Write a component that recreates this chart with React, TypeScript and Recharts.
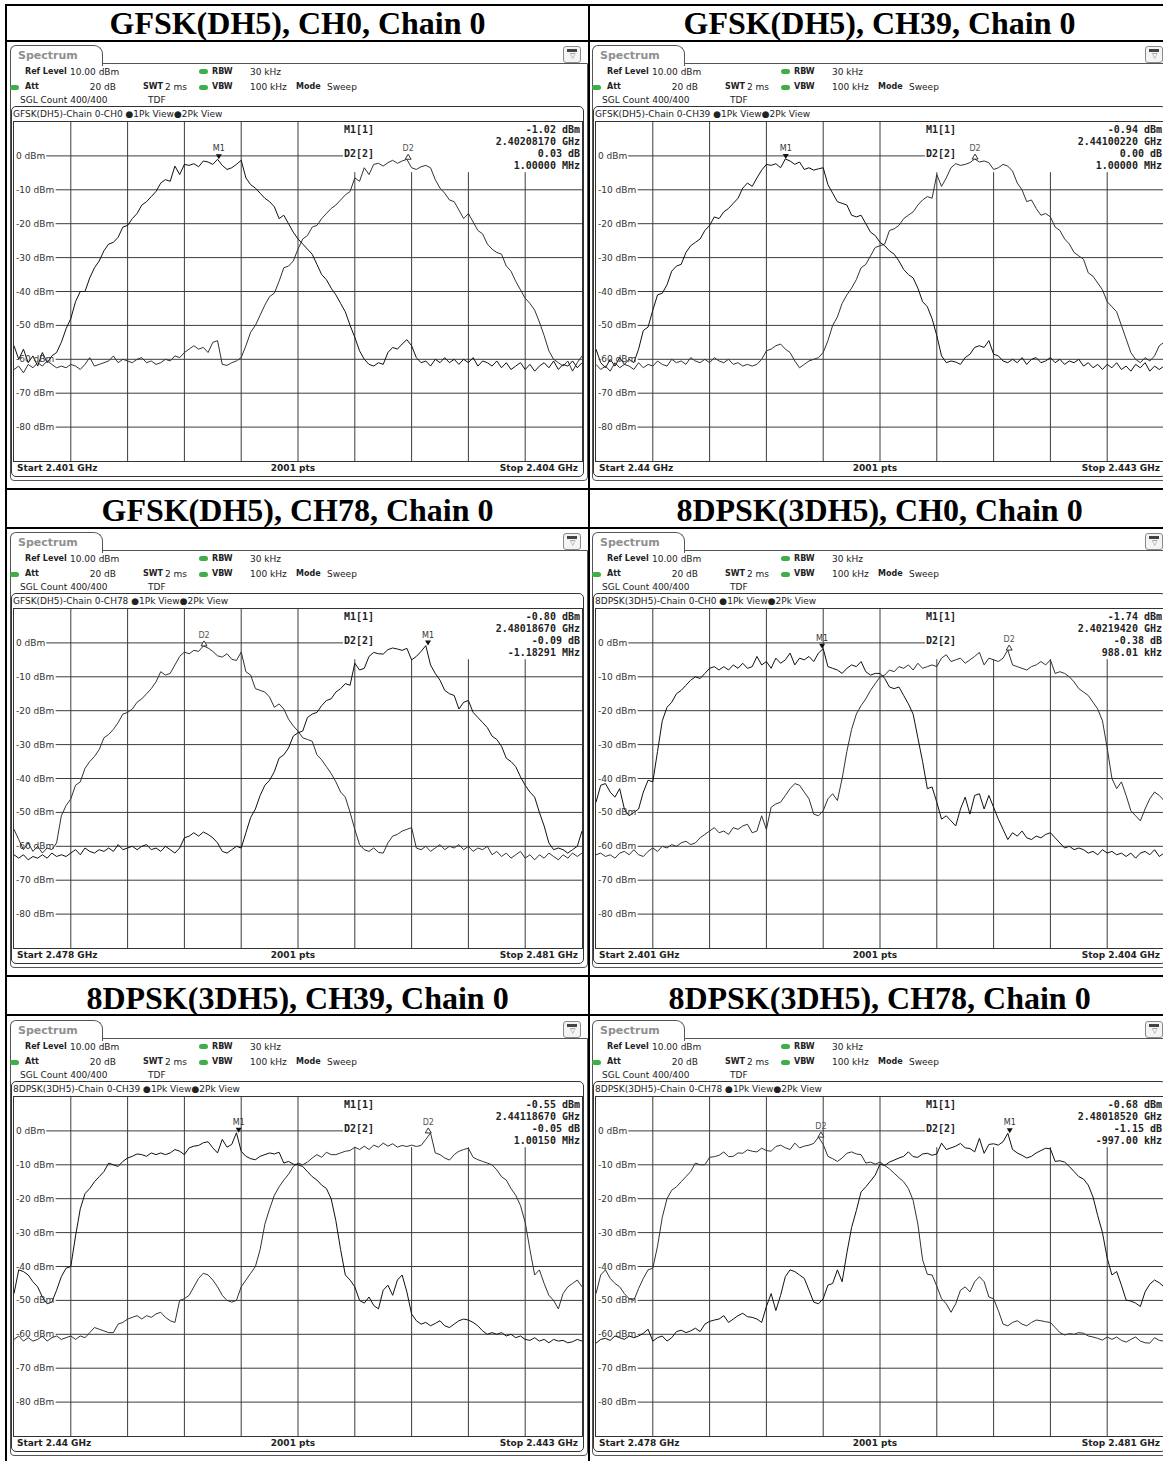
import React from "react";
import { LineChart, Line, XAxis, YAxis, ReferenceLine, ReferenceDot } from "recharts";

// ---- trace data (dBm), 121 points across the 3 MHz span ----
const gfskCh0Trace1 = [
  -56, -60, -57, -61, -59, -62, -58, -61, -59, -58,
  -55, -51, -48, -43, -40, -40, -36, -33, -31, -28,
  -26, -25.5, -24, -21, -20.5, -18.5, -17, -14.5, -13.5, -12,
  -10.5, -8, -7, -7.5, -3, -5.5, -2.5, -2.8, -2.3, -3.2,
  -1.5, -1.8, -2.5, -1, -2.8, -4, -3.5, -2.5, -1.3, -6.5,
  -8.5, -9.5, -11, -12.5, -13.5, -15, -18.5, -17.5, -20, -22.5,
  -24.5, -26, -27.5, -29, -32, -35, -36.5, -39, -41, -43.5,
  -46, -50, -53.5, -57.5, -60, -61.5, -62, -61, -61.5, -58,
  -56.5, -57, -55.5, -54.2, -56, -59.5, -61, -60.5, -62, -60,
  -61, -59.5, -61, -60, -61.5, -60, -61, -59.5, -62, -60.5,
  -61, -62, -60.5, -62.5, -61, -63, -62, -61, -63, -61.5,
  -63.5, -62, -61, -62.5, -60.5, -63, -61.5, -62, -60.5, -62.5, -61,
];
const gfskCh0Trace2 = [
  -63, -62, -64, -61.5, -62.5, -61, -62, -60.5, -61.5, -62.5,
  -62, -62.5, -61.5, -62, -63, -61.5, -59.5, -62, -61.5, -61,
  -60.5, -59, -61, -60, -60.5, -61, -60, -59.5, -61, -60.5,
  -61.5, -61, -60, -60.5, -59, -59.5, -58, -57, -56, -57,
  -56.5, -58, -55, -54.5, -61.5, -61.8, -61, -60.5, -59.5, -56,
  -52, -50, -47, -44, -41.5, -40.5, -37, -33, -32.5, -31,
  -27.5, -24.5, -23.5, -21, -20.5, -18.5, -17, -15.5, -14.5, -13,
  -11.5, -10.5, -6.5, -7.5, -3.5, -5.5, -2.5, -2.2, -3, -2,
  -1.3, -2.2, -1.5, -1, -3.5, -4, -3.2, -2.8, -3.5, -7,
  -9.5, -11, -13, -13.5, -16, -18.5, -17, -19.5, -22, -23,
  -26, -27.5, -28.5, -29, -32.5, -34, -37, -39.5, -42, -43.5,
  -45.5, -49, -53, -57.5, -60, -61, -62, -60.5, -63.5, -61, -59,
];
const gfskCh39Trace1 = [
  -57, -61, -62.5, -60, -62, -59.5, -61.5, -60, -61, -57,
  -51.5, -50.5, -45.5, -41, -40.5, -38, -34, -32.5, -32, -28.5,
  -26.5, -25.5, -24.5, -22, -20.5, -18, -18.5, -16.5, -15.5, -14,
  -12.5, -9.5, -8, -9, -6.5, -4.2, -2.5, -2.8, -2.3, -3.5,
  -0.9, -1.5, -2.5, -1.8, -4, -3.5, -4.2, -3.8, -3.5, -8.5,
  -11, -13.5, -14, -14.5, -17.5, -18, -17.5, -20, -22.5, -23.5,
  -25.5, -26.5, -28, -29, -31, -33.5, -35, -36, -39, -43,
  -44.5, -48, -53, -59, -61, -60.5, -60.8, -61.5, -59.5, -58.5,
  -56.5, -56, -56.5, -54.5, -58.5, -59, -60.5, -61, -60, -61,
  -59.5, -61.5, -60, -59.5, -61, -60.5, -59.5, -61, -60, -61.5,
  -60.5, -61, -60, -62, -61, -62.5, -61.5, -63, -61.5, -62.5,
  -61, -63, -62, -63.5, -61.5, -62.5, -61, -63.5, -62, -63, -62,
];
const gfskCh39Trace2 = [
  -61.5, -63, -62, -63.5, -61, -62.5, -61.5, -62, -63, -61,
  -62.5, -61.5, -62, -60.5, -61.5, -62, -60, -61, -60.5, -61.5,
  -59.5, -60.5, -61, -60, -61, -59.5, -60.5, -61, -60, -61.5,
  -61, -62, -61.5, -62, -61.5, -60, -57.5, -57, -56, -55.5,
  -57, -58, -60.5, -62.5, -61.5, -60.5, -60, -59.5, -58, -54.5,
  -50, -47.5, -43.5, -41, -39, -36.5, -33, -32, -29.5, -27,
  -26.5, -26, -22, -21.5, -20.5, -18.5, -17.5, -16.5, -14.5, -13,
  -12, -12.5, -5.5, -9, -6.5, -3.5, -2.3, -2.8, -2.5, -2,
  -0.9, -1.8, -1.5, -2, -4, -3.5, -2.5, -3, -4.5, -8,
  -10, -13.5, -13, -15.5, -17.5, -17, -18, -21, -22, -24.5,
  -26, -28.5, -29.5, -30.5, -34.5, -35.5, -37.5, -39.5, -43, -44.5,
  -46, -50, -54, -58, -60, -61, -59.5, -60.5, -59, -56, -55,
];
const gfskCh78Trace1 = [
  -62.5, -63.5, -62.5, -64, -63, -63.5, -62.5, -63.5, -62, -63,
  -62.5, -63, -62, -61, -62.5, -60.5, -61.5, -62, -61, -61.5,
  -60.5, -61.5, -59.5, -61, -60.5, -60, -61, -60, -59.5, -61,
  -60.5, -61.5, -60, -61, -62, -60.5, -57.5, -57, -56, -57,
  -55.8, -56.5, -57.5, -59, -61.5, -62, -61, -60, -60.5, -56,
  -51.5, -49, -45, -42, -40.5, -38, -34, -33, -31, -27.5,
  -26.5, -26, -22, -21, -20.5, -18.5, -17, -16.5, -14.5, -13.5,
  -12, -12.5, -6, -8, -7.5, -4, -2.8, -3.2, -3.3, -2,
  -1.5, -1.8, -2.2, -1.6, -5, -4, -2.5, -0.8, -6.5, -9,
  -11, -14, -15, -15.5, -19.5, -17.5, -17, -20.5, -22, -23.5,
  -25, -27.5, -28.5, -30.5, -34, -35, -36.5, -39.5, -42, -44,
  -45.5, -50, -54, -59, -61, -60.5, -61, -62, -61, -60, -55.5,
];
const gfskCh78Trace2 = [
  -55, -58, -61, -59, -61.5, -60, -62, -60.5, -61, -59,
  -51, -48, -46, -42, -41, -37, -35, -33.5, -31.5, -28,
  -27, -25.5, -23.5, -21, -20.5, -19.5, -17.5, -16.5, -15, -13.5,
  -11.5, -8.5, -9.5, -9, -6.5, -4, -2.7, -3.2, -2.2, -2.5,
  -0.9, -1.5, -2.5, -3.8, -4.2, -3.2, -4.8, -5.2, -2.7, -8.5,
  -9.5, -13.5, -14, -14.5, -16, -19, -18, -19.5, -22.5, -24.5,
  -26, -28, -28.5, -29, -33, -34.5, -36.5, -38.5, -41, -44,
  -45.5, -50, -55, -59.5, -61, -61.5, -60.5, -61.8, -62, -59,
  -57, -56.5, -55.5, -55, -54.5, -60.5, -61, -60, -61.5, -60.5,
  -59.5, -61, -60, -60.5, -59.5, -61, -60, -61.5, -60.5, -61,
  -60, -62.5, -61.5, -63, -62, -63.5, -62.5, -61.5, -63.5, -62.5,
  -64, -62.5, -63.5, -62, -63, -64, -62.5, -63.5, -62, -63, -62,
];
const dpskCh0Trace1 = [
  -47, -42, -41.5, -44, -45.5, -43, -49, -51, -50, -49,
  -44, -40.5, -41, -32, -23, -19, -17.5, -15, -14, -12.5,
  -11, -10, -10.5, -9, -7.5, -7, -8, -7, -8, -6.5,
  -7.5, -6, -7.5, -7, -4, -6.5, -5.5, -7.5, -4.5, -6,
  -5, -3, -6.5, -4.5, -5, -4, -5.5, -3, -1.7, -7,
  -7.5, -8, -9, -7.5, -6.5, -7, -5.5, -8.5, -9.5, -9,
  -9, -10.5, -13, -13.5, -13, -15.5, -18, -21, -28, -35,
  -43, -42.5, -47, -52, -51, -52.5, -54, -49, -45.5, -50.5,
  -45, -44.5, -49, -45, -48.5, -52, -55, -58, -56, -57,
  -55.5, -57.5, -58, -57, -57.5, -56.5, -56, -57.5, -59, -60.5,
  -60, -61, -60.5, -61, -62, -61.5, -62.5, -61, -62, -61.5,
  -62.5, -62, -63, -62, -63.5, -62, -61.5, -62.5, -61, -63, -62,
];
const dpskCh0Trace2 = [
  -62.5, -62, -63, -62.5, -63.5, -62, -61.5, -62.5, -61, -62.5,
  -63, -61.5, -60.5, -61.5, -60, -60.5, -59.5, -60, -59, -58.5,
  -59.5, -59, -57.5, -56.5, -55.5, -54.5, -56, -55.5, -56.5, -54.5,
  -55, -54, -53.5, -56, -55.5, -51, -55, -48.5, -47.5, -47,
  -45, -43, -41.5, -42, -44, -46, -50.5, -51, -49.5, -46,
  -44.5, -46.5, -40, -32, -25.5, -21, -18.5, -16.5, -14, -12,
  -10, -9.5, -8, -8.5, -7, -7.5, -6.5, -8, -6, -7.5,
  -7, -6.5, -7, -4.5, -3.5, -5.5, -5, -4.5, -6, -5,
  -4, -2.8, -6.5, -4.5, -5, -5.5, -4.5, -2.1, -6.5, -7,
  -7.5, -8, -7, -6.5, -5.5, -6.5, -5, -9, -8.5, -9,
  -10, -11.5, -13.5, -14.5, -15.5, -17.5, -19.5, -23, -31, -40,
  -43, -41, -45, -49.5, -51, -52.5, -49, -46, -44, -45, -46.5,
];
const dpskCh39Trace1 = [
  -48, -41, -41.5, -42.5, -44.5, -46, -49, -51, -50.5, -47,
  -43, -40.5, -40, -31, -23, -18.5, -17, -15, -13.5, -12,
  -9.5, -10, -10.5, -9, -8, -7.5, -6.8, -7, -7.5, -6.5,
  -7, -6.5, -7, -6.5, -5.5, -6, -7, -5, -4.5, -4.3,
  -3.5, -3.2, -5, -6.5, -2.5, -4.8, -4, -0.55, -6, -7.5,
  -8.2, -8.5, -7.5, -7, -6.5, -6.8, -6.3, -9.5, -9, -9.8,
  -10, -10.5, -12, -13.5, -14.5, -16, -17, -20, -26.5, -35,
  -42.5, -44, -46, -50, -50.8, -49, -51.5, -52.5, -47, -45.5,
  -48.5, -44, -42.5, -47.5, -54, -56, -57, -56.5, -57.5, -56.8,
  -56, -57.5, -58, -57, -56, -55.5, -55.8, -56.5, -57.5, -59,
  -60, -59.5, -60, -59.5, -60.5, -60, -61, -60.5, -61.5, -61.8,
  -61, -62, -61.5, -62.5, -61.5, -62, -61.8, -62.5, -62.2, -61.5, -62,
];
const dpskCh39Trace2 = [
  -61.5, -60.5, -62, -61, -62, -61.5, -60.5, -62, -61, -60.5,
  -61.5, -61, -60.5, -61.5, -60.5, -61, -59.5, -58, -58.5, -59,
  -59.5, -59.5, -57, -56.5, -55.5, -55, -54.5, -55.5, -54.5, -55,
  -54, -53.5, -55, -56, -56.5, -50, -49.5, -48.5, -46, -43.5,
  -42, -42.5, -44, -46, -48.5, -50, -50.5, -50, -46, -44,
  -42, -40, -35, -27.5, -23, -19, -16.5, -14.5, -12.8, -10.5,
  -9.5, -10, -9.2, -8, -7, -7.8, -6.3, -7, -7, -6.5,
  -6, -5.8, -4.8, -5.5, -4.5, -5.5, -4.2, -4.8, -3.6, -4.5,
  -3.8, -4.8, -4.3, -4.6, -4.2, -4.6, -4.3, -2.5, -0.6, -6.5,
  -7, -8, -8.6, -7, -6, -5.5, -5.1, -7.8, -8.5, -9,
  -9.5, -10, -11.5, -13.5, -14.5, -17, -19, -22, -27, -35,
  -42.5, -41, -45, -48.5, -50, -52.5, -48, -46, -45, -44, -46,
];
const dpskCh78Trace1 = [
  -62.6, -61.5, -61.2, -61.8, -60.5, -61, -61.5, -60.5, -61, -60.5,
  -59.7, -58.5, -62, -61, -60.5, -62, -61, -59.2, -58.8, -59.5,
  -59, -58.2, -59.2, -57, -56.2, -55.8, -55.5, -54.5, -56.5, -55.5,
  -54.5, -53.8, -54.8, -55, -55.5, -56.5, -51.8, -48, -53, -48.5,
  -43, -41, -41.5, -42.5, -43.5, -47, -50.5, -51, -49.5, -45.5,
  -45, -41, -44.5, -36, -28.5, -23.5, -18, -16.5, -14.8, -13,
  -9.8, -10.2, -9.2, -8.6, -8, -7.5, -6.2, -7.6, -7.8, -6.8,
  -6.6, -7.2, -6.8, -3.6, -5.5, -5, -4.5, -3.7, -5, -5.2,
  -6.2, -2.2, -6.6, -4, -3.8, -4.2, -3.2, -0.7, -5.5, -6.5,
  -7.2, -8, -7.5, -6.5, -5.8, -5.1, -5.3, -9, -8.8, -9.2,
  -10.5, -12, -13.5, -14.2, -16, -19.5, -25, -30, -37.5, -42.5,
  -41.5, -45.5, -49.9, -50.2, -50.8, -51.8, -47.5, -45.2, -44, -44.8, -46,
];
const dpskCh78Trace2 = [
  -48, -42.5, -41, -43.5, -45, -46, -48, -49.5, -50, -46.5,
  -43.5, -41, -40.5, -34, -25.5, -20, -17.5, -16.5, -15, -13.5,
  -12, -9.5, -10, -10, -7.8, -7.6, -7.2, -6.2, -7.6, -7.5,
  -6.5, -6.6, -5.6, -6, -6.2, -5.1, -5.8, -6, -4.6, -4.2,
  -5, -5.5, -3.6, -5, -4.5, -4.2, -3.7, -1.8, -4, -7.5,
  -8.2, -9, -8, -6.6, -6.2, -6.8, -7, -9.5, -9.2, -9.8,
  -9.2, -10.2, -11.2, -12.5, -13.8, -15, -17, -20.5, -27.5, -38,
  -42.3, -42.5, -45.8, -49.5, -51, -53.5, -51, -47, -46, -47.5,
  -44.5, -43, -44.5, -49, -49.5, -53, -57, -57.5, -56.5, -56,
  -57, -57.5, -56.5, -55.8, -56, -56.3, -56.5, -58, -59.5, -60.2,
  -59.8, -60, -59.5, -59.7, -60.5, -60.8, -61.2, -61.7, -60.8, -61.5,
  -60.8, -61.8, -62.3, -61.5, -60.8, -62, -62.5, -62.6, -61, -61.8, -62,
];

// ---- per-panel labels ----
const titles = [
  "GFSK(DH5), CH0, Chain 0",
  "GFSK(DH5), CH39, Chain 0",
  "GFSK(DH5), CH78, Chain 0",
  "8DPSK(3DH5), CH0, Chain 0",
  "8DPSK(3DH5), CH39, Chain 0",
  "8DPSK(3DH5), CH78, Chain 0",
];
const traceNames = [
  "GFSK(DH5)-Chain 0-CH0",
  "GFSK(DH5)-Chain 0-CH39",
  "GFSK(DH5)-Chain 0-CH78",
  "8DPSK(3DH5)-Chain 0-CH0",
  "8DPSK(3DH5)-Chain 0-CH39",
  "8DPSK(3DH5)-Chain 0-CH78",
];
const startFreqs = ["2.401 GHz", "2.44 GHz", "2.478 GHz", "2.401 GHz", "2.44 GHz", "2.478 GHz"];
const stopFreqs = ["2.404 GHz", "2.443 GHz", "2.481 GHz", "2.404 GHz", "2.443 GHz", "2.481 GHz"];
const m1Levels = ["-1.02 dBm", "-0.94 dBm", "-0.80 dBm", "-1.74 dBm", "-0.55 dBm", "-0.68 dBm"];
const m1Freqs = ["2.40208170 GHz", "2.44100220 GHz", "2.48018670 GHz", "2.40219420 GHz", "2.44118670 GHz", "2.48018520 GHz"];
const d2Deltas = ["0.03 dB", "0.00 dB", "-0.09 dB", "-0.38 dB", "-0.05 dB", "-1.15 dB"];
const d2Offsets = ["1.00000 MHz", "1.00000 MHz", "-1.18291 MHz", "988.01 kHz", "1.00150 MHz", "-997.00 kHz"];
// marker positions in trace-point units (0..120) and dBm
const m1X = [43.27, 40.09, 87.47, 47.77, 47.47, 87.41];
const m1Y = [-1.02, -0.94, -0.8, -1.74, -0.55, -0.68];
const d2X = [83.27, 80.09, 40.15, 87.29, 87.52, 47.53];
const d2Y = [-0.99, -0.94, -0.89, -2.12, -0.6, -1.83];

const traces1 = [gfskCh0Trace1, gfskCh39Trace1, gfskCh78Trace1, dpskCh0Trace1, dpskCh39Trace1, dpskCh78Trace1];
const traces2 = [gfskCh0Trace2, gfskCh39Trace2, gfskCh78Trace2, dpskCh0Trace2, dpskCh39Trace2, dpskCh78Trace2];

const levelTicks = [0, -10, -20, -30, -40, -50, -60, -70, -80];
const freqGrid = [12, 24, 36, 48, 60, 72, 84, 96, 108];

const SANS = '"DejaVu Sans", Verdana, sans-serif';
const MONO = '"DejaVu Sans Mono", "Liberation Mono", monospace';
const SERIF = '"Liberation Serif", "Times New Roman", serif';
const GRID = "#3c3c3c";
const GREEN = "#3fae49";

const PLOT_W = 568;
const PLOT_H = 339;

function Txt({ x, cy, bold, right, mono, size, color, children }: any) {
  return (
    <div
      style={{
        position: "absolute",
        top: cy - 7,
        height: 14,
        lineHeight: "14px",
        left: right ? undefined : x,
        right: right ? 590 - x : undefined,
        fontFamily: mono ? MONO : SANS,
        fontWeight: bold ? "bold" : "normal",
        fontSize: size || 9,
        color: color || "#222",
        whiteSpace: "nowrap",
      }}
    >
      {children}
    </div>
  );
}

function Led({ x, y }: { x: number; y: number }) {
  return (
    <div style={{ position: "absolute", left: x, top: y, width: 9, height: 5, borderRadius: 3, background: GREEN }} />
  );
}

function LevelTick({ y, payload }: any) {
  return (
    <text x={2} y={y} dy={3} fontFamily={SANS} fontSize={9} fill="#333">
      {payload.value} dBm
    </text>
  );
}

function M1Shape({ cx, cy }: any) {
  return (
    <g>
      <text x={cx} y={cy - 8} textAnchor="middle" fontFamily={SANS} fontSize={8} fill="#333">
        M1
      </text>
      <polygon points={`${cx - 3},${cy - 5} ${cx + 3},${cy - 5} ${cx},${cy}`} fill="#111" />
    </g>
  );
}

function D2Shape({ cx, cy }: any) {
  return (
    <g>
      <text x={cx} y={cy - 8} textAnchor="middle" fontFamily={SANS} fontSize={8} fill="#555">
        D2
      </text>
      <polygon points={`${cx - 3},${cy} ${cx + 3},${cy} ${cx},${cy - 5}`} fill="#fff" stroke="#333" strokeWidth={1} />
    </g>
  );
}

function Panel({ n, left, top }: { n: number; left: number; top: number }) {
  const t1 = traces1[n];
  const t2 = traces2[n];
  const data = t1.map((v, i) => ({ i, t1: v, t2: t2[i] }));
  return (
    <div style={{ position: "absolute", left, top, width: 590, height: 487 }}>
      <div
        style={{
          position: "absolute",
          left: 7,
          top: 5,
          width: 581,
          height: 36,
          lineHeight: "36px",
          textAlign: "center",
          fontFamily: SERIF,
          fontWeight: "bold",
          fontSize: 32,
          whiteSpace: "nowrap",
          color: "#000",
        }}
      >
        {titles[n]}
      </div>

      {/* analyzer window */}
      <div
        style={{
          position: "absolute",
          left: 10,
          top: 63,
          width: 576,
          height: 416,
          border: "1.5px solid #555",
          borderRadius: "0 0 4px 4px",
        }}
      />
      <div
        style={{
          position: "absolute",
          left: 10,
          top: 45,
          width: 91,
          height: 20,
          border: "1.5px solid #555",
          borderBottom: "none",
          borderRadius: "6px 9px 0 0",
          background: "#fff",
        }}
      />
      <Txt x={18} cy={56} bold size={11} color="#8f8f8f">
        Spectrum
      </Txt>
      <div
        style={{
          position: "absolute",
          left: 563,
          top: 46,
          width: 16,
          height: 15,
          border: "1px solid #8a8a8a",
          borderRadius: 3,
          background: "#f4f4f4",
        }}
      >
        <div style={{ position: "absolute", left: 3, top: 2, width: 10, height: 3, background: "#444" }} />
        <div style={{ position: "absolute", left: 3, top: 5, width: 10, fontSize: 7, lineHeight: "8px", color: "#666", textAlign: "center" }}>▽</div>
      </div>

      {/* settings block */}
      <Txt x={25} cy={72} bold size={8}>Ref Level</Txt>
      <Txt x={70} cy={72}>10.00 dBm</Txt>
      <Led x={199} y={69} />
      <Txt x={212} cy={72} bold size={8}>RBW</Txt>
      <Txt x={250} cy={72}>30 kHz</Txt>
      <Led x={10} y={85} />
      <Txt x={25} cy={87} bold size={8}>Att</Txt>
      <Txt x={116} cy={87} right>20 dB</Txt>
      <Txt x={143} cy={87} bold size={8}>SWT</Txt>
      <Txt x={165} cy={87}>2 ms</Txt>
      <Led x={199} y={85} />
      <Txt x={212} cy={87} bold size={8}>VBW</Txt>
      <Txt x={250} cy={87}>100 kHz</Txt>
      <Txt x={296} cy={87} bold size={8}>Mode</Txt>
      <Txt x={327} cy={87}>Sweep</Txt>
      <Txt x={20} cy={100}>SGL Count 400/400</Txt>
      <Txt x={148} cy={100}>TDF</Txt>

      {/* trace window */}
      <div
        style={{
          position: "absolute",
          left: 11,
          top: 106,
          width: 571,
          height: 369,
          border: "1.5px solid #333",
          borderRadius: 5,
        }}
      />
      <Txt x={13} cy={113.5}>{traceNames[n] + " \u25CF1Pk View\u25CF2Pk View"}</Txt>
      <div
        style={{
          position: "absolute",
          left: 13,
          top: 121,
          width: PLOT_W,
          height: PLOT_H,
          border: "1px solid #333",
        }}
      >
        <LineChart width={PLOT_W} height={PLOT_H} data={data} margin={{ top: 0, right: 0, bottom: 0, left: 0 }}>
          <XAxis dataKey="i" type="number" domain={[0, 120]} hide />
          <YAxis
            type="number"
            domain={[-90, 10]}
            ticks={levelTicks}
            interval={0}
            mirror
            axisLine={false}
            tickLine={false}
            tick={<LevelTick />}
          />
          {levelTicks.map((v) => (
            <ReferenceLine
              key={"h" + v}
              segment={[
                { x: v === 0 ? 6.8 : 8.8, y: v },
                { x: v === 0 ? 69.5 : 120, y: v },
              ]}
              stroke={GRID}
              strokeWidth={1}
            />
          ))}
          {freqGrid.map((k) => (
            <ReferenceLine
              key={"v" + k}
              segment={[
                { x: k, y: -90 },
                { x: k, y: k > 60 ? -4.8 : 10 },
              ]}
              stroke={GRID}
              strokeWidth={1}
            />
          ))}
          <Line type="linear" dataKey="t2" stroke="#333" strokeWidth={1} dot={false} isAnimationActive={false} />
          <Line type="linear" dataKey="t1" stroke="#111" strokeWidth={1} dot={false} isAnimationActive={false} />
          <ReferenceDot x={m1X[n]} y={m1Y[n]} r={0} shape={(p: any) => <M1Shape {...p} />} />
          <ReferenceDot x={d2X[n]} y={d2Y[n]} r={0} shape={(p: any) => <D2Shape {...p} />} />
        </LineChart>
      </div>

      {/* marker table */}
      <Txt x={344} cy={129.5} bold mono size={10}>M1[1]</Txt>
      <Txt x={580} cy={129.5} bold mono size={10} right>{m1Levels[n]}</Txt>
      <Txt x={580} cy={141.8} bold mono size={10} right>{m1Freqs[n]}</Txt>
      <Txt x={344} cy={154} bold mono size={10}>D2[2]</Txt>
      <Txt x={580} cy={154} bold mono size={10} right>{d2Deltas[n]}</Txt>
      <Txt x={580} cy={166.3} bold mono size={10} right>{d2Offsets[n]}</Txt>

      {/* footer */}
      <Txt x={17} cy={468} bold>{"Start " + startFreqs[n]}</Txt>
      <div
        style={{
          position: "absolute",
          left: 243,
          width: 100,
          top: 461,
          height: 14,
          lineHeight: "14px",
          textAlign: "center",
          fontFamily: SANS,
          fontWeight: "bold",
          fontSize: 9,
          color: "#222",
        }}
      >
        2001 pts
      </div>
      <Txt x={578} cy={468} bold right>{"Stop " + stopFreqs[n]}</Txt>
    </div>
  );
}

const rowTops = [0, 487, 975];
const colLefts = [0, 582];
const hRules = [4, 40, 488, 527, 975, 1014];
const vRules = [5, 588];

export default function App() {
  return (
    <div
      style={{
        position: "absolute",
        left: 0,
        top: 0,
        width: 1163,
        height: 1461,
        overflow: "hidden",
        background: "#fff",
      }}
    >
      {titles.map((_, n) => (
        <Panel key={n} n={n} left={colLefts[n % 2]} top={rowTops[Math.floor(n / 2)]} />
      ))}
      {hRules.map((y) => (
        <div key={"r" + y} style={{ position: "absolute", left: 5, top: y, width: 1170, height: 2, background: "#000" }} />
      ))}
      {vRules.map((x) => (
        <div key={"c" + x} style={{ position: "absolute", left: x, top: 4, width: 2, height: 1470, background: "#000" }} />
      ))}
    </div>
  );
}
